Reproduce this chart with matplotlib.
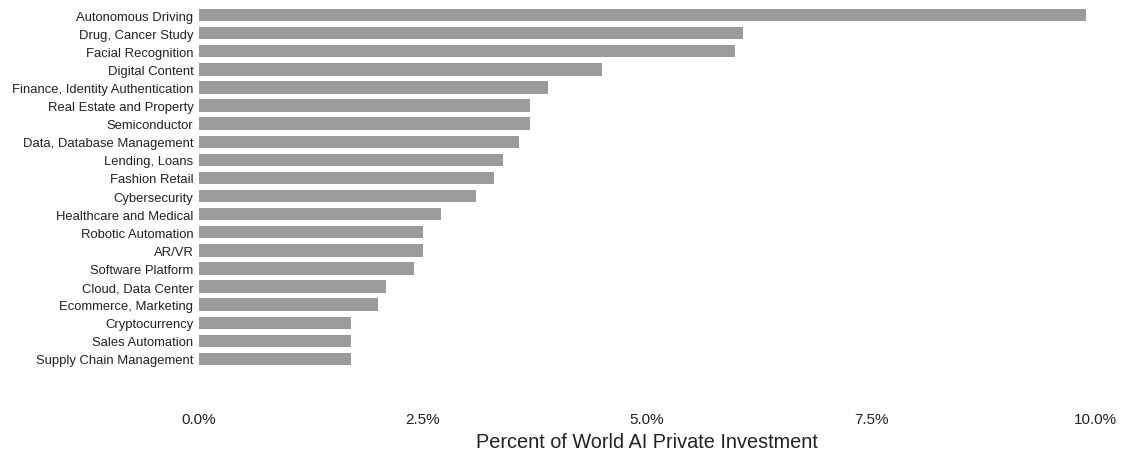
import matplotlib
matplotlib.use("Agg")
import matplotlib.pyplot as plt
from matplotlib.ticker import FuncFormatter

plt.rcParams['font.family'] = ['Liberation Sans', 'DejaVu Sans']

# Industry sectors, top to bottom
sectors = [
    "Autonomous Driving", "Drug, Cancer Study", "Facial Recognition",
    "Digital Content", "Finance, Identity Authentication",
    "Real Estate and Property", "Semiconductor", "Data, Database Management",
    "Lending, Loans", "Fashion Retail", "Cybersecurity",
    "Healthcare and Medical", "Robotic Automation", "AR/VR",
    "Software Platform", "Cloud, Data Center", "Ecommerce, Marketing",
    "Cryptocurrency", "Sales Automation", "Supply Chain Management",
]
# percent of world AI private investment
share = [
    9.9, 6.07, 5.98, 4.5, 3.9, 3.69, 3.69, 3.57, 3.39, 3.29, 3.09,
    2.7, 2.5, 2.5, 2.4, 2.09, 2.0, 1.7, 1.7, 1.7,
]
xticks = [0, 2.5, 5.0, 7.5, 10.0]

W, H = 1121, 456
fig = plt.figure(figsize=(W / 100, H / 100), dpi=100)
ax = fig.add_axes([199 / W, 1 - 369 / H, (1095 - 199) / W, (369 - 7) / H])

ypos = list(range(len(sectors)))
ax.barh(ypos, share, height=0.68, color="#9b9b9b")
ax.set_ylim(len(sectors) - 0.5, -0.5)
ax.set_xlim(0, 10)

ax.set_yticks(ypos)
ax.set_yticklabels(sectors, fontsize=9.4, color="#222222")
ax.set_xticks(xticks)
ax.xaxis.set_major_formatter(FuncFormatter(lambda v, p: f"{v:.1f}%"))
ax.tick_params(axis="x", labelsize=11, pad=32, length=0, colors="#222222")
ax.tick_params(axis="y", length=0, pad=4)
ax.set_xlabel("Percent of World AI Private Investment", fontsize=14.3,
              color="#222222", labelpad=4)

for s in ax.spines.values():
    s.set_visible(False)

fig.savefig("out.png", dpi=100)
